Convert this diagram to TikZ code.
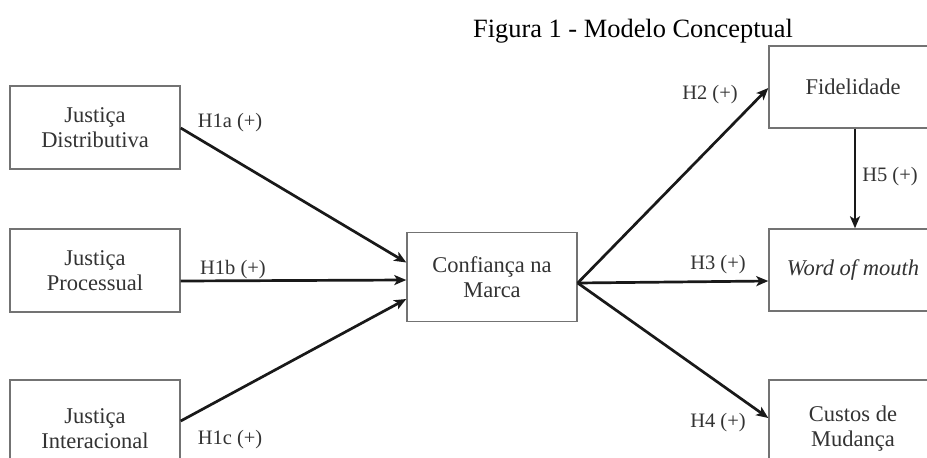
\documentclass[tikz,border=0pt]{standalone}
\usepackage{fontspec}
\setmainfont{Liberation Serif}
\usetikzlibrary{arrows.meta}
\begin{document}
\begin{tikzpicture}[x=1pt,y=-1pt,
  boxnode/.style={draw=black!55, line width=1.4pt, fill=white, align=center,
    text=black!80, inner sep=0pt, font=\fontsize{22.5}{25}\selectfont},
  lab/.style={text=black!80, inner sep=0pt, font=\fontsize{20.5}{22}\selectfont},
  arr/.style={line width=2.7pt, black!90, -{Stealth[length=12pt,width=10pt,inset=3pt]}}]
\clip (0,0) rectangle (927,458);
\fill[white] (0,0) rectangle (927,458);
\node[anchor=base, inner sep=0pt, font=\fontsize{26.4}{30}\selectfont] (title) at (633,37) {Figura 1 - Modelo Conceptual};

\node[boxnode, minimum width=170pt, minimum height=83pt] (jd) at (95,127.5) {Justiça\\Distributiva};
\node[boxnode, minimum width=170pt, minimum height=83pt] (jp) at (95,270.5) {Justiça\\Processual};
\node[boxnode, minimum width=170pt, minimum height=97pt] (ji) at (95,428.5) {Justiça\\Interacional};
\node[boxnode, minimum width=170pt, minimum height=89pt] (conf) at (492,277) {Confiança na\\Marca};
\node[boxnode, minimum width=168pt, minimum height=82pt] (fid) at (853,87) {Fidelidade};
\node[boxnode, minimum width=168pt, minimum height=82pt] (wom) at (853,270) {\itshape Word of mouth};
\node[boxnode, minimum width=168pt, minimum height=98pt] (cus) at (853,429) {Custos de\\Mudança};

\draw[arr] ([yshift=-0.5pt]jd.east) -- ([yshift=14.5pt]conf.west);
\draw[arr] ([yshift=-10.5pt]jp.east) -- ([yshift=-3pt]conf.west);
\draw[arr] ([yshift=7.5pt]ji.east) -- ([yshift=-22pt]conf.west);
\draw[arr] ([yshift=-6pt]conf.east) -- ([yshift=-1pt]fid.west);
\draw[arr] ([yshift=-6pt]conf.east) -- ([yshift=-11pt]wom.west);
\draw[arr] ([yshift=-6pt]conf.east) -- ([yshift=11pt]cus.west);
\draw[arr] ([xshift=2pt]fid.south) -- ([xshift=2pt]wom.north);

\node[lab] (h1a) at (230,123) {H1a (+)};
\node[lab] (h1b) at (233,270) {H1b (+)};
\node[lab] (h1c) at (230,440) {H1c (+)};
\node[lab] (h2) at (710,95) {H2 (+)};
\node[lab] (h3) at (718,265) {H3 (+)};
\node[lab] (h4) at (718,423) {H4 (+)};
\node[lab] (h5) at (890,177) {H5 (+)};
\end{tikzpicture}
\end{document}
